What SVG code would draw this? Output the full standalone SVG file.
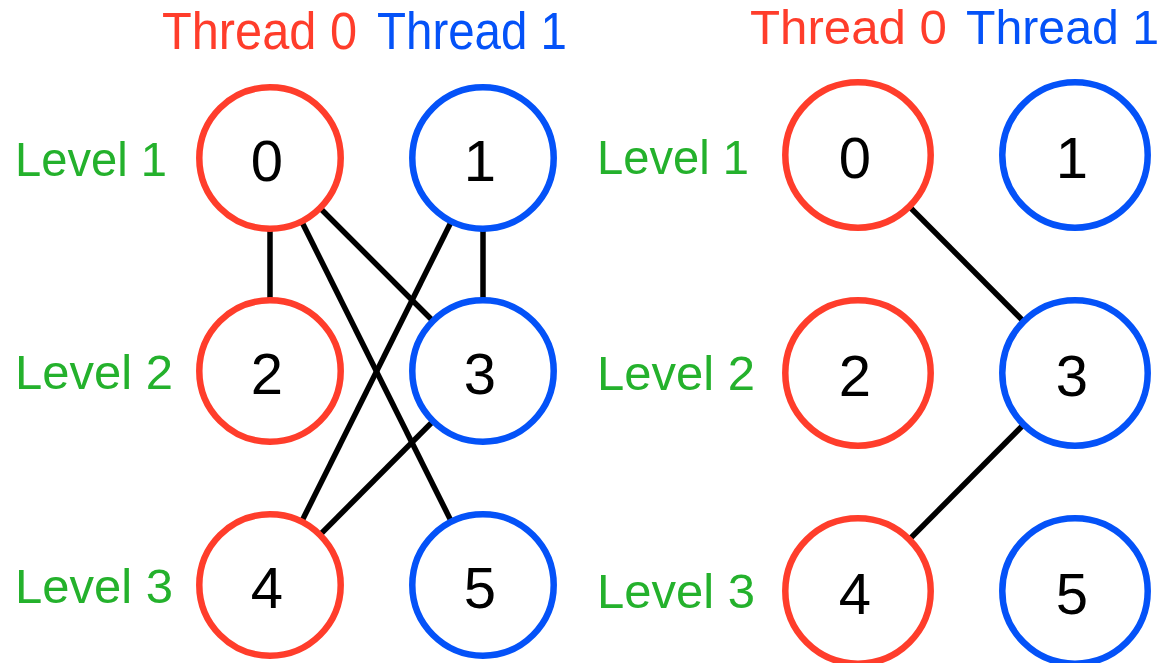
<svg xmlns="http://www.w3.org/2000/svg" width="1166" height="663" viewBox="0 0 1166 663">
  <style>
    text { font-family: "Liberation Sans", Arial, Helvetica, sans-serif; }
    .t0 { fill: #ff3d2b; font-size: 51px; }
    .t1 { fill: #0452f8; font-size: 51px; }
    .top { font-size: 48px; }
    .lvl { fill: #24b12c; font-size: 49px; }
    .num { fill: #000; font-size: 58px; text-anchor: middle; }
    .red { fill: #fff; stroke: #ff3d2b; stroke-width: 6.5; }
    .blue { fill: #fff; stroke: #0452f8; stroke-width: 6.5; }
    .edge { stroke: #000; stroke-width: 5.5; fill: none; }
  </style>
  <rect width="1166" height="663" fill="#fff"/>

  <!-- column and row headings -->
  <g id="labels-left">
    <text class="t0" x="162" y="49" textLength="195" lengthAdjust="spacingAndGlyphs">Thread 0</text>
    <text class="t1" x="377" y="49" textLength="190" lengthAdjust="spacingAndGlyphs">Thread 1</text>
    <text class="lvl" x="15" y="176" textLength="152" lengthAdjust="spacingAndGlyphs">Level 1</text>
    <text class="lvl" x="15" y="389" textLength="158" lengthAdjust="spacingAndGlyphs">Level 2</text>
    <text class="lvl" x="15" y="603" textLength="158" lengthAdjust="spacingAndGlyphs">Level 3</text>
  </g>
  <g id="labels-right">
    <text class="t0 top" x="750" y="44" textLength="197" lengthAdjust="spacingAndGlyphs">Thread 0</text>
    <text class="t1 top" x="966" y="44" textLength="193" lengthAdjust="spacingAndGlyphs">Thread 1</text>
    <text class="lvl" x="597" y="174" textLength="152" lengthAdjust="spacingAndGlyphs">Level 1</text>
    <text class="lvl" x="597" y="390" textLength="158" lengthAdjust="spacingAndGlyphs">Level 2</text>
    <text class="lvl" x="597" y="608" textLength="158" lengthAdjust="spacingAndGlyphs">Level 3</text>
  </g>

  <!-- dependency edges, drawn centre to centre beneath the nodes -->
  <g id="connectors">
    <line class="edge" x1="270" y1="158" x2="270" y2="371"/>
    <line class="edge" x1="483" y1="158" x2="483" y2="371"/>
    <line class="edge" x1="270" y1="158" x2="483" y2="371"/>
    <line class="edge" x1="270" y1="158" x2="483" y2="585"/>
    <line class="edge" x1="483" y1="158" x2="270" y2="585"/>
    <line class="edge" x1="483" y1="371" x2="270" y2="585"/>
    <line class="edge" x1="858" y1="155" x2="1075" y2="373"/>
    <line class="edge" x1="1075" y1="373" x2="858" y2="591"/>
  </g>

  <!-- left graph -->
  <g id="L0"><circle class="red" cx="270" cy="158" r="70.7"/><text class="num" x="267" y="181">0</text></g>
  <g id="L1"><circle class="blue" cx="483" cy="158" r="70.7"/><text class="num" x="480" y="181">1</text></g>
  <g id="L2"><circle class="red" cx="270" cy="371" r="70.7"/><text class="num" x="267" y="394">2</text></g>
  <g id="L3"><circle class="blue" cx="483" cy="371" r="70.7"/><text class="num" x="480" y="394">3</text></g>
  <g id="L4"><circle class="red" cx="270" cy="585" r="70.7"/><text class="num" x="267" y="608">4</text></g>
  <g id="L5"><circle class="blue" cx="483" cy="585" r="70.7"/><text class="num" x="480" y="608">5</text></g>

  <!-- right graph -->
  <g id="R0"><circle class="red" cx="858" cy="155" r="72.7" stroke-width="6"/><text class="num" x="855" y="178">0</text></g>
  <g id="R1"><circle class="blue" cx="1075" cy="155" r="72.7" stroke-width="6"/><text class="num" x="1072" y="178">1</text></g>
  <g id="R2"><circle class="red" cx="858" cy="373" r="72.7" stroke-width="6"/><text class="num" x="855" y="396">2</text></g>
  <g id="R3"><circle class="blue" cx="1075" cy="373" r="72.7" stroke-width="6"/><text class="num" x="1072" y="396">3</text></g>
  <g id="R4"><circle class="red" cx="858" cy="591" r="72.7" stroke-width="6"/><text class="num" x="855" y="614">4</text></g>
  <g id="R5"><circle class="blue" cx="1075" cy="591" r="72.7" stroke-width="6"/><text class="num" x="1072" y="614">5</text></g>
</svg>
